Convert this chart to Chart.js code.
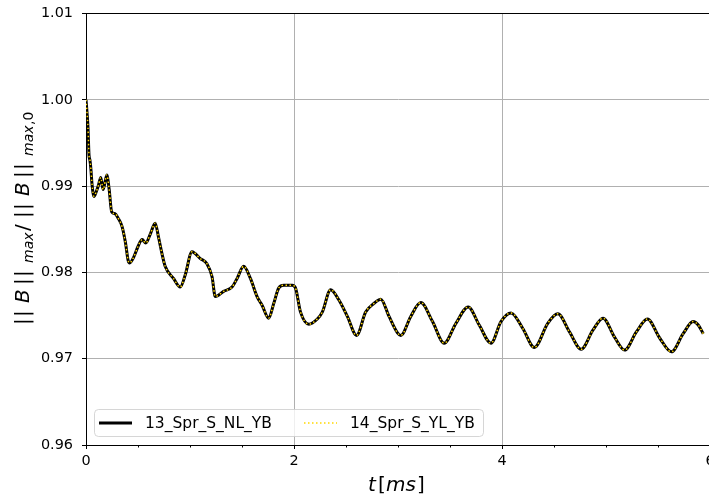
<!DOCTYPE html>
<html>
<head>
<meta charset="utf-8">
<script src="https://cdn.jsdelivr.net/npm/chart.js@4/dist/chart.umd.min.js"></script>
<style>
  html, body { margin: 0; padding: 0; background: #fff; overflow: hidden; }
  #wrap { width: 709px; height: 499px; overflow: hidden; position: relative; }
  canvas { display: block; }
</style>
</head>
<body>
<div id="wrap"><canvas id="c" width="740" height="499"></canvas></div>
<script>
// time axis [ms]
const timeMs = [
  0.000, 0.010, 0.019, 0.029, 0.038, 0.047, 0.058, 0.077, 0.100, 0.120,
  0.142, 0.165, 0.200, 0.222, 0.247, 0.280, 0.308, 0.347, 0.380, 0.405,
  0.420, 0.460, 0.500, 0.540, 0.575, 0.620, 0.665, 0.697, 0.730, 0.761,
  0.841, 0.906, 0.954, 1.019, 1.099, 1.163, 1.212, 1.243, 1.323, 1.404,
  1.453, 1.516, 1.581, 1.645, 1.693, 1.757, 1.805, 1.854, 1.902, 1.983,
  2.014, 2.063, 2.143, 2.224, 2.272, 2.352, 2.432, 2.513, 2.602, 2.689,
  2.769, 2.834, 2.914, 2.995, 3.027, 3.123, 3.219, 3.332, 3.444, 3.557,
  3.675, 3.781, 3.894, 3.990, 4.087, 4.200, 4.311, 4.440, 4.537, 4.649,
  4.761, 4.874, 4.971, 5.082, 5.179, 5.292, 5.398, 5.516, 5.629, 5.742,
  5.838, 5.887, 5.935
];

// ||B||max / ||B||max,0 for run 13 (non-linear)
const runNL = [
  1.0000, 0.9985, 0.9968, 0.9936, 0.9930, 0.9920, 0.9902, 0.9888, 0.9894, 0.9901,
  0.9910, 0.9896, 0.9913, 0.9897, 0.9870, 0.9868, 0.9863, 0.9853, 0.9834, 0.9814,
  0.9811, 0.9818, 0.9830, 0.9838, 0.9834, 0.9845, 0.9857, 0.9841, 0.9822, 0.9807,
  0.9793, 0.9783, 0.9797, 0.9824, 0.9816, 0.9810, 0.9795, 0.9772, 0.9778, 0.9783,
  0.9793, 0.9807, 0.9793, 0.9772, 0.9762, 0.9747, 0.9764, 0.9782, 0.9785, 0.9785,
  0.9782, 0.9754, 0.9740, 0.9746, 0.9754, 0.9780, 0.9768, 0.9749, 0.9727, 0.9754,
  0.9764, 0.9769, 0.9749, 0.9730, 0.9727, 0.9749, 0.9765, 0.9743, 0.9718, 0.9741,
  0.9760, 0.9739, 0.9718, 0.9743, 0.9753, 0.9735, 0.9713, 0.9741, 0.9752, 0.9731,
  0.9711, 0.9733, 0.9747, 0.9725, 0.9710, 0.9731, 0.9746, 0.9724, 0.9708, 0.9729,
  0.9743, 0.9739, 0.9729
];

// ||B||max / ||B||max,0 for run 14 (linear)
const runYL = [
  1.0000, 0.9985, 0.9968, 0.9936, 0.9930, 0.9920, 0.9902, 0.9888, 0.9894, 0.9901,
  0.9910, 0.9896, 0.9913, 0.9897, 0.9870, 0.9868, 0.9863, 0.9853, 0.9834, 0.9814,
  0.9811, 0.9818, 0.9830, 0.9838, 0.9834, 0.9845, 0.9857, 0.9841, 0.9822, 0.9807,
  0.9793, 0.9783, 0.9797, 0.9824, 0.9816, 0.9810, 0.9795, 0.9772, 0.9778, 0.9783,
  0.9793, 0.9807, 0.9793, 0.9772, 0.9762, 0.9747, 0.9764, 0.9782, 0.9785, 0.9785,
  0.9782, 0.9754, 0.9740, 0.9746, 0.9754, 0.9780, 0.9768, 0.9749, 0.9727, 0.9754,
  0.9764, 0.9769, 0.9749, 0.9730, 0.9727, 0.9749, 0.9765, 0.9743, 0.9718, 0.9741,
  0.9760, 0.9739, 0.9718, 0.9743, 0.9753, 0.9735, 0.9713, 0.9741, 0.9752, 0.9731,
  0.9711, 0.9733, 0.9747, 0.9725, 0.9710, 0.9731, 0.9746, 0.9724, 0.9708, 0.9729,
  0.9743, 0.9739, 0.9729
];

const seriesNames = ['13_Spr_S_NL_YB', '14_Spr_S_YL_YB'];
const xTicks = [0, 2, 4, 6];
const xMinorTicks = [0.5, 1, 1.5, 2.5, 3, 3.5, 4.5, 5, 5.5];
const yTicks = [0.96, 0.97, 0.98, 0.99, 1.00, 1.01];

const FONT = "'DejaVu Sans'";
Chart.defaults.font.family = FONT;
Chart.defaults.color = '#000';

const toPoints = vals => vals.map((v, i) => ({ x: timeMs[i], y: v }));

// spines, minor ticks, axis titles with subscripts, legend box
const decor = {
  id: 'decor',
  afterDraw(chart) {
    const { ctx, chartArea: a, scales: { x } } = chart;
    ctx.save();
    ctx.strokeStyle = '#000';
    ctx.lineWidth = 1;
    ctx.beginPath();
    ctx.moveTo(a.left, a.top);
    ctx.lineTo(a.right, a.top);
    ctx.lineTo(a.right, a.bottom);
    ctx.stroke();

    ctx.beginPath();
    xMinorTicks.forEach(v => {
      const px = Math.round(x.getPixelForValue(v)) + 0.5;
      ctx.moveTo(px, a.bottom);
      ctx.lineTo(px, a.bottom + 2.5);
    });
    ctx.stroke();

    // x title: t [ms]
    ctx.fillStyle = '#000';
    ctx.textBaseline = 'alphabetic';
    ctx.textAlign = 'left';
    const xt = [
      { s: 't', f: 'italic 20px ' + FONT, x: 368 },
      { s: '[', f: '20px ' + FONT, x: 378 },
      { s: 'ms', f: 'italic 20px ' + FONT, x: 386 },
      { s: ']', f: '20px ' + FONT, x: 417 }
    ];
    xt.forEach(p => { ctx.font = p.f; ctx.fillText(p.s, p.x, 491); });

    // y title: ||B||max / ||B||max,0 (rotated)
    ctx.save();
    ctx.translate(29, 325);
    ctx.rotate(-Math.PI / 2);
    const main = '20px ' + FONT, it = 'italic 20px ' + FONT;
    const sub = 'italic 14px ' + FONT, subr = '14px ' + FONT;
    const yt = [
      { s: '|', f: main, x: 0 }, { s: '|', f: main, x: 8 },
      { s: 'B', f: it, x: 22 },
      { s: '|', f: main, x: 40 }, { s: '|', f: main, x: 48 },
      { s: 'max', f: sub, x: 62, dy: 4 },
      { s: '/', f: main, x: 94 },
      { s: '|', f: main, x: 107 }, { s: '|', f: main, x: 115 },
      { s: 'B', f: it, x: 129 },
      { s: '|', f: main, x: 147 }, { s: '|', f: main, x: 155 },
      { s: 'max', f: sub, x: 169, dy: 4 },
      { s: ',0', f: subr, x: 200, dy: 4 }
    ];
    yt.forEach(p => { ctx.font = p.f; ctx.fillText(p.s, p.x, p.dy || 0); });
    ctx.restore();

    // legend
    const bx = 94.5, by = 409.5, bw = 389, bh = 27, r = 4;
    ctx.beginPath();
    ctx.roundRect(bx, by, bw, bh, r);
    ctx.fillStyle = 'rgba(255,255,255,0.8)';
    ctx.fill();
    ctx.strokeStyle = 'rgba(204,204,204,0.8)';
    ctx.lineWidth = 1;
    ctx.stroke();

    const ds = chart.data.datasets;
    const cy = by + bh / 2;
    const entries = [{ lx: 99, tx: 145 }, { lx: 304, tx: 350 }];
    entries.forEach((e, i) => {
      const d = ds[i];
      ctx.save();
      ctx.beginPath();
      ctx.strokeStyle = d.borderColor;
      ctx.lineWidth = d.borderWidth;
      ctx.setLineDash(d.borderDash || []);
      ctx.moveTo(e.lx, cy);
      ctx.lineTo(e.lx + 33, cy);
      ctx.stroke();
      ctx.restore();
      ctx.font = '15.5px ' + FONT;
      ctx.fillStyle = '#000';
      ctx.textBaseline = 'middle';
      ctx.fillText(d.label, e.tx, cy + 1);
    });
    ctx.restore();
  }
};

new Chart(document.getElementById('c'), {
  type: 'line',
  data: {
    datasets: [
      {
        label: seriesNames[0],
        data: toPoints(runNL),
        borderColor: '#000000',
        borderWidth: 3,
        cubicInterpolationMode: 'monotone',
        pointRadius: 0,
        order: 1
      },
      {
        label: seriesNames[1],
        data: toPoints(runYL),
        borderColor: '#FFD700',
        borderWidth: 1.5,
        borderDash: [1.5, 2.5],
        cubicInterpolationMode: 'monotone',
        pointRadius: 0,
        order: 0
      }
    ]
  },
  options: {
    responsive: false,
    animation: false,
    devicePixelRatio: 1,
    layout: { padding: { left: 0, right: 30, top: 13.5, bottom: 0 } },
    plugins: { legend: { display: false }, tooltip: { enabled: false } },
    scales: {
      x: {
        type: 'linear',
        min: 0,
        max: 6,
        afterBuildTicks: s => { s.ticks = xTicks.map(v => ({ value: v })); },
        afterFit: s => { s.height = 54; s.paddingLeft = 0; s.paddingRight = 0; },
        grid: { color: '#b0b0b0', lineWidth: 1, tickColor: '#000', tickLength: 4, tickWidth: 1 },
        border: { color: '#000', width: 1 },
        ticks: {
          color: '#000',
          font: { size: 14.4 },
          padding: 4,
          maxRotation: 0,
          autoSkip: false,
          callback: v => String(v)
        }
      },
      y: {
        type: 'linear',
        min: 0.96,
        max: 1.01,
        afterBuildTicks: s => { s.ticks = yTicks.map(v => ({ value: v })); },
        afterFit: s => { s.width = 86; s.paddingTop = 0; s.paddingBottom = 0; },
        grid: { color: '#b0b0b0', lineWidth: 1, tickColor: '#000', tickLength: 4, tickWidth: 1 },
        border: { color: '#000', width: 1 },
        ticks: {
          color: '#000',
          font: { size: 14.4 },
          padding: 9,
          autoSkip: false,
          callback: v => Number(v).toFixed(2)
        }
      }
    }
  },
  plugins: [decor]
});
</script>
</body>
</html>
